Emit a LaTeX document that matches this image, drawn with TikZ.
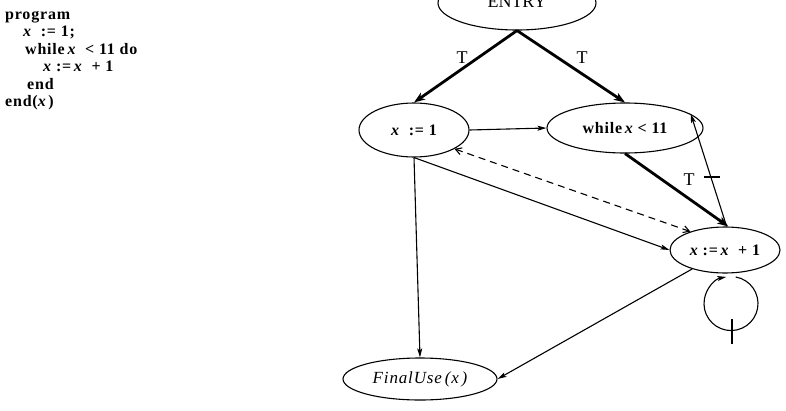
\documentclass[tikz,border=0pt]{standalone}
\usepackage{fontspec}
\setmainfont{Liberation Serif}
\newfontfamily\progfont[LetterSpace=5]{Liberation Serif}
\usetikzlibrary{shapes.geometric,arrows.meta,calc}
\begin{document}
\begin{tikzpicture}[x=1pt,y=1pt,
  codeline/.style={anchor=base west, inner sep=0pt,
    font=\progfont\fontsize{16}{18}\selectfont\bfseries},
  vertex/.style={draw, ellipse, line width=1.1pt, inner sep=0pt,
    font=\progfont\fontsize{16}{18}\selectfont\bfseries},
  tlabel/.style={inner sep=0pt, font=\fontsize{18}{20}\selectfont},
  lightedge/.style={line width=1.1pt, -{Stealth[length=9pt,width=5pt,inset=2pt]}},
  heavyedge/.style={line width=2.8pt, -{Stealth[length=11pt,width=8pt,inset=3pt]}},
  depedge/.style={line width=1.1pt, dash pattern=on 7pt off 5pt,
    {Straight Barb[length=6pt,width=7pt]}-{Straight Barb[length=6pt,width=7pt]}},
]
\useasboundingbox (0,0) rectangle (786,-410);
\clip (0,0) rectangle (786,-410);

% program text
\node[codeline] (p1) at (5,-19)    {program};
\node[codeline] (p2) at (23,-36.5) {\itshape x\upshape\ \ :=\ 1;};
\node[codeline] (p3) at (25,-54)   {while\,\itshape x\upshape\ \ <\ 11\ do};
\node[codeline] (p4) at (43,-71.5) {\itshape x\upshape\ :=\,\itshape x\upshape\ \ +\ 1};
\node[codeline] (p5) at (27,-89)   {end};
\node[codeline] (p6) at (5,-106.5) {end(\itshape x\upshape\,)};

% graph vertices
\node[vertex, minimum width=158, minimum height=54] (entry) at (517,-3) {};
\node[tlabel, anchor=base] (entrytext) at (517,-7) {ENTRY};
\node[vertex, minimum width=110, minimum height=54] (x1) at (414,-130)
  {\itshape x\upshape\ \ :=\ 1};
\node[vertex, minimum width=156, minimum height=50] (wh) at (625,-128)
  {while\,\itshape x\upshape\ <\ 11};
\node[vertex, minimum width=110, minimum height=46] (xx) at (725,-250)
  {\itshape x\upshape\ :=\,\itshape x\upshape\ \ +\ 1};
\node[vertex, minimum width=154, minimum height=42,
  font=\progfont\fontsize{17}{19}\selectfont\itshape]
  (fin) at (420,-379) {FinalUse\,(x\,)};

% control edges from ENTRY
\draw[heavyedge] (entry.south) -- (x1.north);
\draw[heavyedge] (entry.south) -- (wh.north);
\node[tlabel] (t1) at (462,-58) {T};
\node[tlabel] (t2) at (582,-58) {T};

% remaining edges
\draw[lightedge] (x1.east) -- (wh.west);
\draw[lightedge] (x1.south) -- (fin.north);
\draw[lightedge] (x1.south) -- (xx.west);
\draw[depedge] (x1.-25) -- (xx.152);
\draw[heavyedge] (wh.south) -- (xx.82);
\node[tlabel] (t3) at (689,-180) {T};
\draw[lightedge] (xx.86) -- coordinate[pos=0.44] (tick) (wh.12);
\draw[line width=1.1pt] ($(tick)+(-7,0)$) -- ($(tick)+(9,0)$);
\draw[lightedge] (xx.210) -- (fin.east);

% self loop under x := x + 1
\coordinate (lc) at ($(xx.south)+(6,-30)$);
\draw[lightedge] (lc) ++(80:27) arc[start angle=80, end angle=-260, radius=27];
\draw[line width=1.1pt] ($(lc)+(1,-15)$) -- ($(lc)+(1,-40)$);
\end{tikzpicture}
\end{document}
